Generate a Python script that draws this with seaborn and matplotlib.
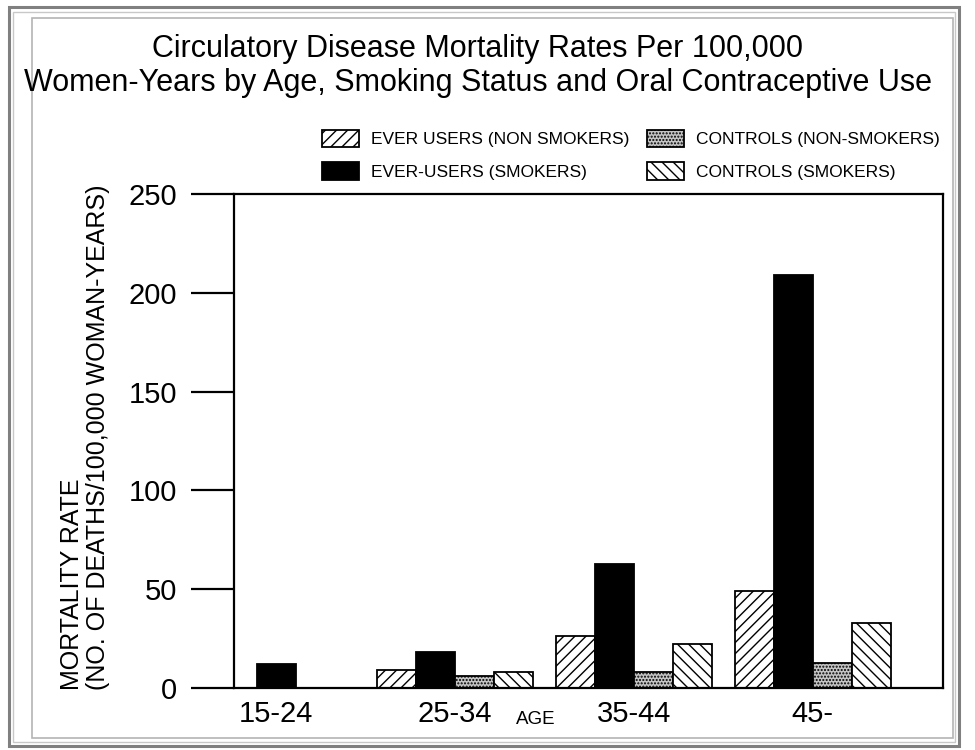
#!/usr/bin/env python3
"""Circulatory disease mortality by age, smoking status and oral contraceptive use."""
import matplotlib

matplotlib.use("Agg")
import matplotlib.patches as mpatches
import matplotlib.pyplot as plt
import numpy as np
import pandas as pd
import seaborn as sns

AGES = ["15-24", "25-34", "35-44", "45-"]
SERIES = [
    "EVER USERS (NON SMOKERS)",
    "EVER-USERS (SMOKERS)",
    "CONTROLS (NON-SMOKERS)",
    "CONTROLS (SMOKERS)",
]
EVER_NONSMOKERS = [np.nan, 9, 26.5, 49]
EVER_SMOKERS = [12, 18, 63, 209]
CONTROL_NONSMOKERS = [np.nan, 6, 8, 12.5]
CONTROL_SMOKERS = [np.nan, 8, 22.5, 33]
Y_TICKS = [0, 50, 100, 150, 200, 250]

TITLE = ("Circulatory Disease Mortality Rates Per 100,000\n"
         "Women-Years by Age, Smoking Status and Oral Contraceptive Use")
Y_LABEL = "MORTALITY RATE\n(NO. OF DEATHS/100,000 WOMAN-YEARS)"

# look of each series: facecolor, hatch
STYLE = {
    SERIES[0]: ("white", "///"),
    SERIES[1]: ("black", ""),
    SERIES[2]: ("#c4c4c4", "....."),
    SERIES[3]: ("white", "\\\\\\"),
}

W, H = 975, 750
BAR_W = 0.218


def px(x, y):
    """pixel (from top-left) -> figure fraction"""
    return x / W, 1 - y / H


def main() -> None:
    sns.set_style("ticks")
    plt.rcParams["font.family"] = ["Liberation Sans", "DejaVu Sans"]
    plt.rcParams["hatch.linewidth"] = 1.0
    for key in ("text.color", "axes.labelcolor", "xtick.color", "ytick.color"):
        plt.rcParams[key] = "black"

    values = [EVER_NONSMOKERS, EVER_SMOKERS, CONTROL_NONSMOKERS, CONTROL_SMOKERS]
    rows = []
    for s, vals in zip(SERIES, values):
        for age, v in zip(AGES, vals):
            if not np.isnan(v):
                rows.append({"age": age, "series": s, "rate": v})
    df = pd.DataFrame(rows)

    # ages with a single reported series get one centred bar
    counts = df.groupby("age")["series"].count()
    single_ages = counts[counts == 1].index
    df_single = df[df["age"].isin(single_ages)]
    df_multi = df[~df["age"].isin(single_ages)]

    fig = plt.figure(figsize=(W / 100, H / 100), dpi=100)
    ax = fig.add_axes([234 / W, 1 - 688 / H, (943 - 234) / W, (688 - 194) / H])

    sns.barplot(
        data=df_multi, x="age", y="rate", hue="series",
        order=AGES, hue_order=SERIES,
        palette={s: STYLE[s][0] for s in SERIES},
        width=BAR_W * len(SERIES), gap=0, edgecolor="black", linewidth=1.3,
        legend=False, ax=ax,
    )
    for s, cont in zip(SERIES, ax.containers):
        for bar in cont:
            bar.set_hatch(STYLE[s][1])

    for s in df_single["series"].unique():
        sns.barplot(
            data=df_single[df_single["series"] == s], x="age", y="rate",
            order=AGES, color=STYLE[s][0], saturation=1,
            width=BAR_W, edgecolor="black", linewidth=1.3, ax=ax,
        )
        for bar in ax.containers[-1]:
            bar.set_hatch(STYLE[s][1])

    ax.set_xlim(-0.236, 3.728)
    ax.set_ylim(0, 250)
    ax.set_yticks(Y_TICKS)
    ax.tick_params(axis="y", left=True, direction="out", length=31, width=1.6,
                   pad=10, labelsize=21)
    ax.tick_params(axis="x", bottom=False, length=0, pad=9, labelsize=21)
    for sp in ax.spines.values():
        sp.set_visible(True)
        sp.set_linewidth(1.6)
        sp.set_color("black")
    ax.set_xlabel("")
    ax.set_ylabel("")

    handles = [
        mpatches.Patch(facecolor=STYLE[s][0], hatch=STYLE[s][1],
                       edgecolor="black", linewidth=1.3, label=s)
        for s in SERIES
    ]
    fig.legend(
        handles=handles, ncol=2, loc="upper left",
        bbox_to_anchor=px(313, 121), bbox_transform=fig.transFigure,
        frameon=False, fontsize=12.5, borderpad=0,
        handlelength=2.15, handleheight=1.15, handletextpad=0.7,
        columnspacing=1.0, labelspacing=0.88,
    )

    fig.text(*px(478, 66), TITLE, ha="center", va="center",
             fontsize=22, linespacing=1.15)
    fig.text(*px(85, 690), Y_LABEL, rotation=90, ha="center", va="bottom",
             multialignment="left", fontsize=18, linespacing=1.15)
    fig.text(*px(536, 720), "AGE", ha="center", va="center", fontsize=13.5)

    # double grey frame around the picture
    for x0, y0, x1, y1, col, lw in [
        (9, 7, 959, 746, "#808080", 2.2),
        (13, 12, 955, 742, "#c8c8c8", 1.0),
        (32, 18, 953, 738, "#b4b4b4", 1.2),
    ]:
        fig.add_artist(mpatches.Rectangle(
            px(x0, y1), (x1 - x0) / W, (y1 - y0) / H,
            transform=fig.transFigure, fill=False, edgecolor=col, linewidth=lw))

    fig.savefig("out.png", dpi=100)


if __name__ == "__main__":
    main()
